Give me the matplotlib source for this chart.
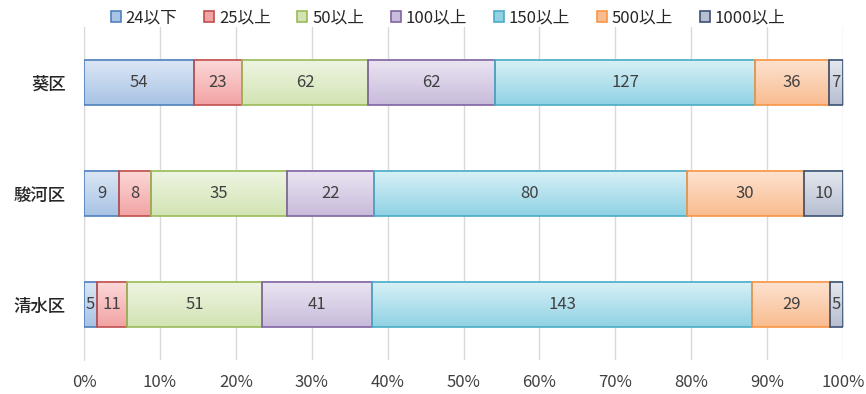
import numpy as np
import matplotlib
matplotlib.use("Agg")
import matplotlib.pyplot as plt
from matplotlib.colors import LinearSegmentedColormap

plt.rcParams['font.family'] = ['Noto Sans CJK JP', 'DejaVu Sans']

categories = ['葵区', '駿河区', '清水区']
series_names = ['24以下', '25以上', '50以上', '100以上', '150以上', '500以上', '1000以上']
values = {
    '24以下':  [54, 9, 5],
    '25以上':  [23, 8, 11],
    '50以上':  [62, 35, 51],
    '100以上': [62, 22, 41],
    '150以上': [127, 80, 143],
    '500以上': [36, 30, 29],
    '1000以上': [7, 10, 5],
}
tick_labels = ['0%', '10%', '20%', '30%', '40%', '50%', '60%', '70%', '80%', '90%', '100%']

styles = {
    '24以下':  ('#dce7f5', '#a8c3e5', '#4f81bd'),
    '25以上':  ('#fcd9d9', '#f2a3a3', '#c0504d'),
    '50以上':  ('#eef5e3', '#d2e4b3', '#9bbb59'),
    '100以上': ('#ebe5f2', '#c8bbdb', '#8064a2'),
    '150以上': ('#d9f1f7', '#90d2e4', '#4bacc6'),
    '500以上': ('#fde3d0', '#f9bc90', '#f79646'),
    '1000以上': ('#e5e8ef', '#b6bed0', '#3b5275'),
}

fig = plt.figure(figsize=(8.66, 3.94), dpi=100)
ax = fig.add_axes([84/866, 1-360/394, (843-84)/866, (360-27)/394])

totals = np.sum([values[s] for s in series_names], axis=0)
y = np.arange(len(categories))
left = np.zeros(len(categories))
bar_h = 0.41
handles = []
for s in series_names:
    v = np.array(values[s], dtype=float)
    frac = v / totals
    top_c, bot_c, edge_c = styles[s]
    cont = ax.barh(y, frac, left=left, height=bar_h, color=bot_c,
                   edgecolor=edge_c, linewidth=1.2, zorder=3, label=s)
    cmap = LinearSegmentedColormap.from_list(s, [top_c, bot_c])
    grad = np.linspace(0, 1, 64).reshape(-1, 1)
    for p in cont.patches:
        x0, y0 = p.get_x(), p.get_y()
        w, h = p.get_width(), p.get_height()
        ax.imshow(grad, cmap=cmap, extent=[x0, x0 + w, y0 + h, y0],
                  aspect='auto', zorder=3.5, interpolation='bilinear',
                  origin='upper')
        p.set_facecolor('none')
        p.set_zorder(4)
    ax.bar_label(cont, labels=[str(int(a)) for a in v], label_type='center',
                 color='#404040', fontsize=12, zorder=5)
    handles.append(plt.Rectangle((0, 0), 1, 1, facecolor=bot_c, edgecolor=edge_c, linewidth=1.2))
    left += frac

ax.set_xlim(0, 1)
ax.set_ylim(len(categories) - 0.5, -0.5)
ax.set_xticks(np.linspace(0, 1, 11))
ax.set_xticklabels(tick_labels, fontsize=12, color='#404040')
ax.set_yticks(y)
ax.set_yticklabels(categories, fontsize=12.5, color='#262626', fontweight='medium')
ax.tick_params(axis='both', length=0)
ax.tick_params(axis='x', pad=10)
ax.tick_params(axis='y', pad=13)
ax.grid(axis='x', color='#d9d9d9', linewidth=1, zorder=0)
ax.set_axisbelow(True)
for sp in ['top', 'right', 'bottom']:
    ax.spines[sp].set_visible(False)
ax.spines['left'].set_color('#d9d9d9')

fig.legend(handles, series_names, loc='center', bbox_to_anchor=(448/866, 1-18/394),
           ncol=7, frameon=False, fontsize=12, handlelength=0.6, handleheight=0.6,
           handletextpad=0.3, columnspacing=1.6, labelcolor='#262626')

fig.savefig('out.png', dpi=100)
